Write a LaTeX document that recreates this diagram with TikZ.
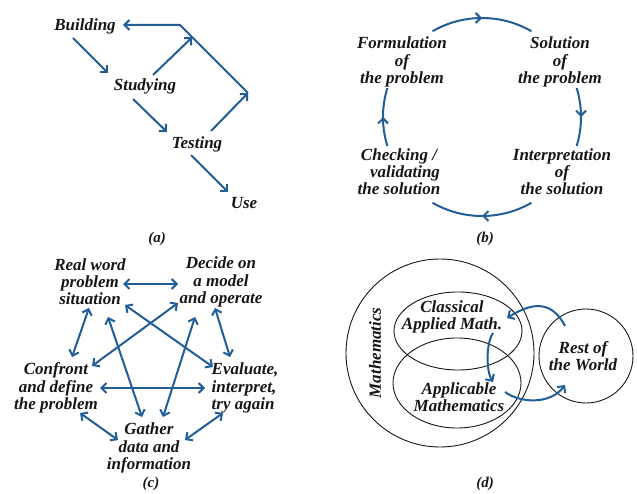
\documentclass[tikz,border=0pt]{standalone}
\usepackage{fontspec}
\setmainfont{Liberation Serif}
\usetikzlibrary{arrows.meta,calc,decorations.markings}
\definecolor{arrblue}{RGB}{33,93,150}
\definecolor{txt}{RGB}{22,22,22}
\begin{document}
\begin{tikzpicture}[x=1pt,y=1pt,
  lbl/.style={font=\fontsize{17}{17.2}\selectfont\bfseries\itshape, text=txt, align=center, inner sep=0pt},
  captext/.style={font=\fontsize{15}{16}\selectfont\bfseries\itshape, text=txt, inner sep=0pt},
  arr/.style={draw=arrblue, line width=2pt, -{Straight Barb[length=5pt,width=10pt]}},
  darr/.style={draw=arrblue, line width=2pt, {Straight Barb[length=5pt,width=10pt]}-{Straight Barb[length=5pt,width=10pt]}},
  midarr/.style={draw=arrblue, line width=2pt, postaction={decorate},
    decoration={markings, mark=at position 0.5 with {\arrow{Straight Barb[length=5pt,width=10pt]}}}},
  ring/.style={draw=txt, line width=0.9pt}
]
\useasboundingbox (0,0) rectangle (637,493);

% ---------- (a) ----------
\node[lbl] (bu) at (85,467) {Building};
\node[lbl] (st) at (145,407) {Studying};
\node[lbl] (te) at (197,349) {Testing};
\node[lbl] (us) at (244,290) {Use};
\node[captext] (ca) at (157,254) {(a)};
\coordinate (c1) at (180,468);
\coordinate (c2) at (248,400);
\draw[arr] ($(bu)+(-12,-12)$) -- ($(st)+(-37,13)$);
\draw[arr] ($(st)+(-12,-13)$) -- ($(te)+(-30,12)$);
\draw[arr] ($(te)+(-6,-11)$) -- ($(us)+(-16,11)$);
\draw[arr] ($(st)+(8,11)$) -- ($(c1)!0.18!(c2)$);
\draw[arr] ($(te)+(14,13)$) -- (c2);
\draw[arr, line join=miter] (c2) -- (c1) -- ($(bu)+(38,1)$);

% ---------- (b) ----------
\node[lbl] (fo) at (402,431) {Formulation\\of\\the problem};
\node[lbl] (so) at (560,431) {Solution\\of\\the problem};
\node[lbl] (in) at (562,321) {Interpretation\\of\\the solution};
\node[lbl] (ch) at (399,321) {Checking /\\\hspace*{12pt}validating\\the solution};
\node[captext] (cb) at (485,254) {(b)};
\coordinate (bc) at (482,376);
\draw[midarr] ([shift={(120:99)}]bc) arc[start angle=120, end angle=60, radius=99];
\draw[midarr] ([shift={(17:99)}]bc) arc[start angle=17, end angle=-17, radius=99];
\draw[midarr] ([shift={(-60:99)}]bc) arc[start angle=-60, end angle=-120, radius=99];
\draw[midarr] ([shift={(197:99)}]bc) arc[start angle=197, end angle=163, radius=99];

% ---------- (c) ----------
\node[lbl] (re) at (90,211) {Real word\\problem\\situation};
\node[lbl] (de) at (221,211) {Decide on\\a model\hspace*{6pt}\\and operate};
\node[lbl] (co) at (56,105) {Confront\\and define\\the problem};
\node[lbl, align=left] (ev) at (245,105) {Evaluate,\\interpret,\\try again};
\node[lbl] (ga) at (149,45) {Gather\\data and\\information};
\node[captext] (cc) at (151,9) {(c)};
\draw[darr] ($(re)+(33,-2)$) -- ($(de)+(-43,-2)$);
\draw[darr] ($(re)+(-1,-26)$) -- ($(co)+(16,31)$);
\draw[darr] ($(re)+(18,-35)$) -- ($(ga)+(-7,31)$);
\draw[darr] ($(re)+(35,-23)$) -- ($(ev)+(-32,21)$);
\draw[darr] ($(de)+(-43,-21)$) -- ($(co)+(36,22)$);
\draw[darr] ($(de)+(-26,-35)$) -- ($(ga)+(14,31)$);
\draw[darr] ($(de)+(-6,-26)$) -- ($(ev)+(-15,31)$);
\draw[darr] ($(co)+(44,0)$) -- ($(ev)+(-40,0)$);
\draw[darr] ($(co)+(24,-25)$) -- ($(ga)+(-31,8)$);
\draw[darr] ($(ev)+(-22,-25)$) -- ($(ga)+(36,8)$);

% ---------- (d) ----------
\draw[ring] (440,140) circle[radius=94];
\draw[ring] (458,162) ellipse[x radius=64, y radius=39];
\draw[ring] (457,110) ellipse[x radius=64, y radius=45];
\draw[ring] (586,137) circle[radius=47];
\node[lbl, rotate=90] (ma) at (375,140) {Mathematics};
\node[lbl] (cl) at (452,176) {Classical\\Applied Math.};
\node[lbl] (ap) at (459,96) {Applicable\\Mathematics};
\node[lbl] (rw) at (583,137) {Rest of\\the World};
\node[captext] (cd) at (485,9) {(d)};
\draw[arr] ($(rw)+(-18,30)$) .. controls ($(rw)+(-33,59)$) and ($(rw)+(-55,51)$) .. ($(cl)+(55,-1)$);
\draw[arr] ($(cl)+(41,-16)$) .. controls ($(cl)+(34,-26)$) and ($(cl)+(34,-54)$) .. ($(ap)+(34,15)$);
\draw[arr] ($(ap)+(46,5)$) .. controls ($(ap)+(61,-6)$) and ($(ap)+(91,-8)$) .. ($(rw)+(-18,-29)$);
\end{tikzpicture}
\end{document}
